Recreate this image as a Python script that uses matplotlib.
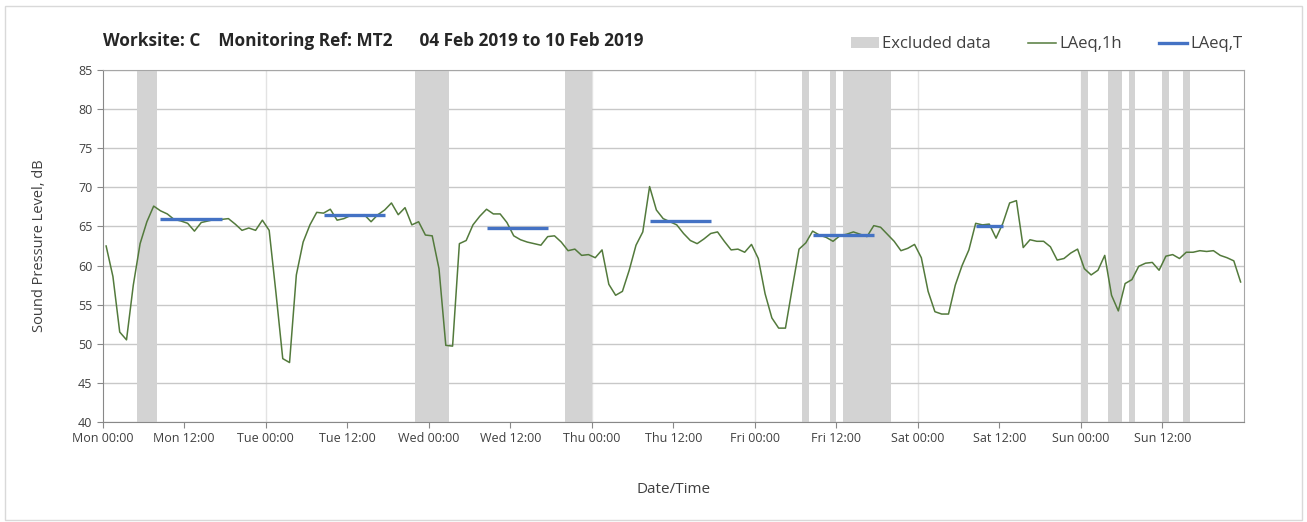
import matplotlib
matplotlib.use("Agg")
import matplotlib.pyplot as plt
from matplotlib.patches import Patch, Rectangle
from matplotlib.lines import Line2D

plt.rcParams["font.family"] = ["Open Sans", "DejaVu Sans"]

# hourly LAeq,1h values, Mon 00:00 -> Sun 23:00
LAEQ_1H = [
    62.5, 58.6, 51.5, 50.5, 57.5, 62.8, 65.6, 67.6, 67.0, 66.6,
    65.9, 65.7, 65.4, 64.4, 65.5, 65.7, 65.9, 65.9, 66.0, 65.3,
    64.5, 64.8, 64.5, 65.8, 64.5, 56.5, 48.1, 47.6, 58.8, 63.0,
    65.2, 66.8, 66.7, 67.2, 65.8, 66.0, 66.4, 66.4, 66.5, 65.6,
    66.5, 67.1, 68.0, 66.5, 67.4, 65.2, 65.6, 63.9, 63.8, 59.6,
    49.8, 49.7, 62.8, 63.2, 65.2, 66.3, 67.2, 66.6, 66.6, 65.5,
    63.8, 63.3, 63.0, 62.8, 62.6, 63.7, 63.8, 63.0, 61.9, 62.1,
    61.3, 61.4, 61.0, 62.0, 57.6, 56.2, 56.7, 59.4, 62.6, 64.3,
    70.1, 67.1, 66.0, 65.6, 65.2, 64.1, 63.2, 62.8, 63.4, 64.1,
    64.3, 63.1, 62.0, 62.1, 61.7, 62.7, 60.9, 56.4, 53.3, 52.0,
    52.0, 57.1, 62.1, 62.9, 64.4, 63.9, 63.6, 63.1, 63.8, 64.0,
    64.3, 64.0, 63.7, 65.1, 64.9, 64.0, 63.1, 61.9, 62.2, 62.7,
    61.0, 56.7, 54.1, 53.8, 53.8, 57.5, 60.0, 62.0, 65.4, 65.2,
    65.3, 63.5, 65.4, 68.0, 68.3, 62.3, 63.3, 63.1, 63.1, 62.4,
    60.7, 60.9, 61.6, 62.1, 59.6, 58.8, 59.4, 61.3, 56.2, 54.2,
    57.7, 58.2, 59.9, 60.3, 60.4, 59.4, 61.2, 61.4, 60.9, 61.7,
    61.7, 61.9, 61.8, 61.9, 61.3, 61.0, 60.6, 57.9,
]
# LAeq,T periods: (first hour, last hour, level)
LAEQ_T = [
    (8, 17, 65.9),
    (32, 41, 66.5),
    (56, 65, 64.8),
    (80, 89, 65.7),
    (104, 113, 63.9),
    (128, 132, 65.1),
]
# excluded data spans, hours from Mon 00:00
EXCLUDED = [
    (5, 8), (46, 51), (68, 72), (103, 104), (107, 108), (109, 116),
    (144, 145), (148, 150), (151, 152), (156, 157), (159, 160),
]
DAYS = ["Mon", "Tue", "Wed", "Thu", "Fri", "Sat", "Sun"]
TICK_LABELS = [f"{d} {t}" for d in DAYS for t in ("00:00", "12:00")]

GREEN = "#537a3c"
BLUE = "#4472c4"
BAND = "#d3d3d3"

fig = plt.figure(figsize=(13.07, 5.22), dpi=100)
fig.patches.append(Rectangle((0.004, 0.004), 0.992, 0.984, transform=fig.transFigure,
                             fill=False, edgecolor="#d9d9d9", lw=1))
ax = fig.add_axes([0.0786, 0.1916, 0.8732, 0.6743])

for a, b in EXCLUDED:
    ax.axvspan(a, b, color=BAND, lw=0, zorder=1)

hours = [k + 0.5 for k in range(len(LAEQ_1H))]
ax.plot(hours, LAEQ_1H, color=GREEN, lw=1.1, zorder=3)
for a, b, lvl in LAEQ_T:
    ax.plot([a + 0.5, b + 0.5], [lvl, lvl], color=BLUE, lw=2.4,
            solid_capstyle="butt", zorder=4)

ax.set_xlim(0, 168)
ax.set_ylim(40, 85)
ax.set_yticks(range(40, 86, 5))
ax.set_xticks(range(0, 168, 12))
ax.set_xticklabels(TICK_LABELS)
ax.tick_params(labelsize=9, colors="#404040", length=4, width=0.8)
ax.tick_params(axis="x", color="#888888")
ax.tick_params(axis="y", color="#888888")
for d in range(1, 7):
    ax.axvline(d * 24, color="#e3e3e3", lw=1, zorder=0)
ax.grid(True, axis="y", color="#c8c8c8", lw=1)
ax.set_axisbelow(True)
for s in ax.spines.values():
    s.set_color("#a6a6a6")
ax.spines["left"].set_color("#888888")
ax.spines["bottom"].set_color("#888888")

ax.set_ylabel("Sound Pressure Level, dB", fontsize=10.5, color="#404040", labelpad=22)
ax.set_xlabel("Date/Time", fontsize=11, color="#404040", labelpad=26)

fig.text(0.0786, 0.921,
         "Worksite: C    Monitoring Ref: MT2      04 Feb 2019 to 10 Feb 2019",
         fontsize=12.4, fontweight="bold", color="#262626", va="center", ha="left")

handles = [Patch(facecolor=BAND, edgecolor="none"),
           Line2D([], [], color=GREEN, lw=1.1),
           Line2D([], [], color=BLUE, lw=2.4)]
fig.legend(handles, ["Excluded data", "LAeq,1h", "LAeq,T"], ncol=3,
           loc="center right", bbox_to_anchor=(0.962, 0.915), frameon=False,
           fontsize=12, handlelength=1.7, handletextpad=0.2, columnspacing=2.2,
           labelcolor="#404040")

fig.savefig("out.png", dpi=100)
